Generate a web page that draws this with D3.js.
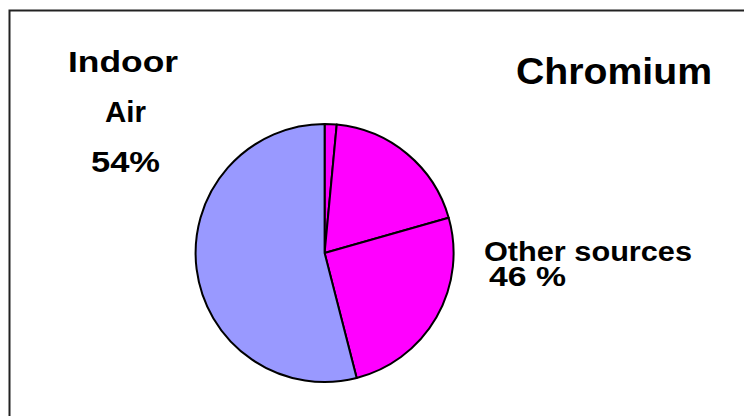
<!DOCTYPE html>
<html><head><meta charset="utf-8">
<script src="https://cdn.jsdelivr.net/npm/d3@7"></script>
<style>html,body{margin:0;padding:0;background:#fff;}svg{display:block;}</style>
</head><body>
<svg id="c" width="744" height="416"></svg>
<script>
const categories = ["Other source A", "Other source B", "Other source C", "Indoor Air"];
const values = [1.5, 19.1, 25.4, 54.0];
const colors = ["#FF00FF", "#FF00FF", "#FF00FF", "#9999FF"];
const title = "Chromium";
const labelIndoor = ["Indoor", "Air", "54%"];
const labelOther = ["Other sources", "46 %"];

const svg = d3.select("#c");
svg.append("rect").attr("x", 9.5).attr("y", 10.5).attr("width", 800).attr("height", 500)
  .attr("fill", "#fff").attr("stroke", "#222").attr("stroke-width", 2);

const cx = 324.6, cy = 253, r = 129;
const pie = d3.pie().sort(null).value(d => d);
const arc = d3.arc().innerRadius(0).outerRadius(r);
const g = svg.append("g").attr("transform", `translate(${cx},${cy})`);
g.selectAll("path").data(pie(values)).join("path")
  .attr("d", arc)
  .attr("fill", (d, i) => colors[i])
  .attr("stroke", "#000").attr("stroke-width", 2).attr("stroke-linejoin", "round");

const font = "Liberation Sans, Arial, sans-serif";
function txt(s, x, y, size, w) {
  const t = svg.append("text").attr("x", x).attr("y", y)
    .attr("font-family", font).attr("font-weight", "bold").attr("font-size", size)
    .attr("fill", "#000").text(s);
  if (w) t.attr("textLength", w).attr("lengthAdjust", "spacingAndGlyphs");
  return t;
}
txt(labelIndoor[0], 68, 72, 30, 110);
txt(labelIndoor[1], 105, 122, 30, 41);
txt(labelIndoor[2], 91, 172, 30, 69);
txt(title, 516, 84, 37, 196);
txt(labelOther[0], 484, 261, 28, 208);
txt(labelOther[1], 489, 286, 28, 77);
</script>
</body></html>
